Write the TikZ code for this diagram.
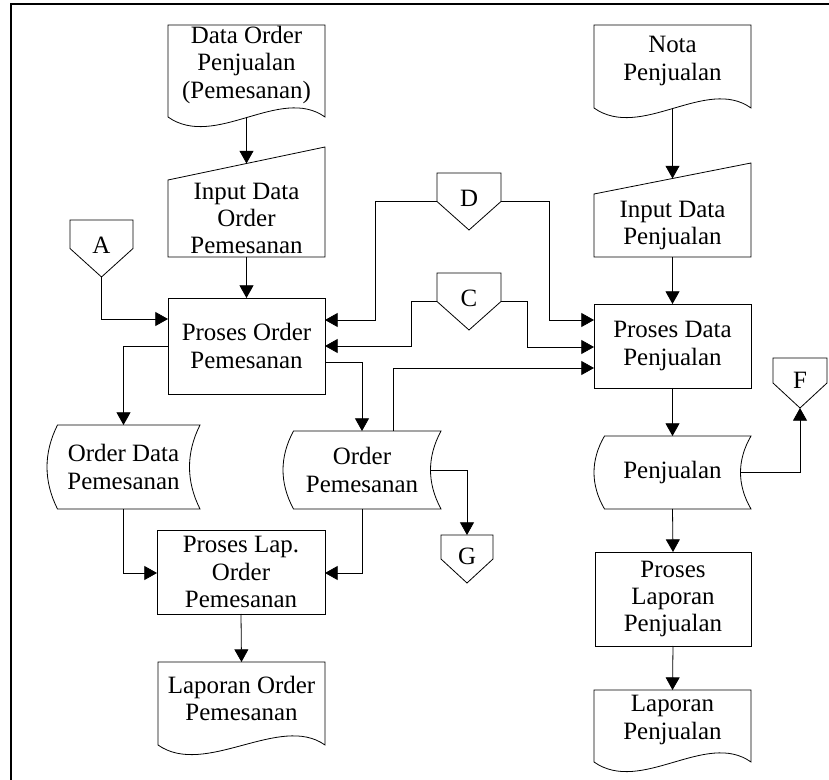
\documentclass[tikz,border=0pt]{standalone}
\usepackage{fontspec}
\setmainfont{Liberation Serif}
\usetikzlibrary{arrows.meta,calc}

\begin{document}
\begin{tikzpicture}[x=0.75pt,y=0.75pt,yscale=-1,xscale=1,
  every node/.style={inner sep=0pt,outer sep=0pt,align=center,font=\fontsize{18.7}{20.3}\selectfont},
  flow/.style={line width=0.6pt,-{Triangle[length=9.5pt,width=10.5pt]}},
  box/.style={draw,line width=0.6pt}]
\useasboundingbox (0,0) rectangle (829,780);

%Frame
\draw [line width=0.8pt] (829,4) -- (11,4) -- (11,780) ;

% Text Node
\node (doc1) at (246.5,65) [minimum width=117.75pt,minimum height=60pt] {Data Order\\Penjualan\\(Pemesanan)};
% Text Node
\node (in1) at (246.5,218.5) [minimum width=117.75pt,minimum height=57.75pt] {Input Data\\Order\\Pemesanan};
% Text Node
\node (p1) at (246.5,346) [box,minimum width=117.75pt,minimum height=72pt] {Proses Order\\Pemesanan};
% Text Node
\node (A) at (101.5,248.5) [minimum width=47.25pt,minimum height=42.75pt] {\raisebox{4.5pt}{A}};
% Text Node
\node (D) at (469,201.5) [minimum width=48pt,minimum height=42.75pt] {\raisebox{4.5pt}{D}};
% Text Node
\node (C) at (469,301.5) [minimum width=48pt,minimum height=42.75pt] {\raisebox{4.5pt}{C}};
% Text Node
\node (s1) at (123.5,467) [minimum width=114.75pt,minimum height=63pt] {Order Data\\Pemesanan};
% Text Node
\node (s2) at (362,470) [minimum width=118.5pt,minimum height=58.5pt] {Order\\Pemesanan};
% Text Node
\node (G) at (467,559) [minimum width=39pt,minimum height=36pt] {\raisebox{4.5pt}{G}};
% Text Node
\node (p2) at (241,572) [box,minimum width=126pt,minimum height=63pt] {Proses Lap.\\Order\\Pemesanan};
% Text Node
\node (d3) at (241.5,698.5) [minimum width=125.25pt,minimum height=54.75pt] {Laporan Order\\Pemesanan};
% Text Node
\node (d2) at (672.5,61) [minimum width=117.75pt,minimum height=54pt] {Nota\\Penjualan};
% Text Node
\node (in2) at (672.5,225.5) [minimum width=117.75pt,minimum height=47.25pt] {Input Data\\Penjualan};
% Text Node
\node (p3) at (672.5,346) [box,minimum width=117.75pt,minimum height=63pt] {Proses Data\\Penjualan};
% Text Node
\node (s3) at (672.5,472.5) [minimum width=117.75pt,minimum height=54.75pt] {Penjualan};
% Text Node
\node (F) at (800,383) [minimum width=40.5pt,minimum height=37.5pt] {\raisebox{4.5pt}{F}};
% Text Node
\node (p4) at (673,599) [box,minimum width=117pt,minimum height=70.5pt] {Proses\\Laporan\\Penjualan};
% Text Node
\node (d4) at (672.5,720) [minimum width=117.75pt,minimum height=45pt] {Laporan\\Penjualan};

%Shape: Document
\draw [line width=0.6pt] (doc1.north west) -- (doc1.north east) -- ($(doc1.south east)+(0,12)$) .. controls +(-45,-32) and +(47,33) .. ($(doc1.south west)+(0,12)$) -- cycle ;
\draw [line width=0.6pt] (d2.north west) -- (d2.north east) -- ($(d2.south east)+(0,11)$) .. controls +(-45,-32) and +(47,33) .. ($(d2.south west)+(0,11)$) -- cycle ;
\draw [line width=0.6pt] (d3.north west) -- (d3.north east) -- ($(d3.south east)+(0,10)$) .. controls +(-45,-32) and +(47,33) .. ($(d3.south west)+(0,10)$) -- cycle ;
\draw [line width=0.6pt] (d4.north west) -- (d4.north east) -- ($(d4.south east)+(0,12)$) .. controls +(-45,-32) and +(47,33) .. ($(d4.south west)+(0,12)$) -- cycle ;
%Shape: Manual Input
\draw [line width=0.6pt] (in1.south west) -- (in1.north west) -- ($(in1.north east)+(0,-33)$) -- (in1.south east) -- cycle ;
\draw [line width=0.6pt] (in2.south west) -- (in2.north west) -- ($(in2.north east)+(0,-31)$) -- (in2.south east) -- cycle ;
%Shape: Stored Data
\draw [line width=0.6pt] ($(s1.north west)+(10.5,0)$) -- (s1.north east) .. controls +(-14,28) and +(-14,-28) .. (s1.south east) -- ($(s1.south west)+(10.5,0)$) .. controls +(-14,-28) and +(-14,28) .. ($(s1.north west)+(10.5,0)$) -- cycle ;
\draw [line width=0.6pt] ($(s2.north west)+(10.5,0)$) -- (s2.north east) .. controls +(-14,26) and +(-14,-26) .. (s2.south east) -- ($(s2.south west)+(10.5,0)$) .. controls +(-14,-26) and +(-14,26) .. ($(s2.north west)+(10.5,0)$) -- cycle ;
\draw [line width=0.6pt] ($(s3.north west)+(10.5,0)$) -- (s3.north east) .. controls +(-14,24) and +(-14,-24) .. (s3.south east) -- ($(s3.south west)+(10.5,0)$) .. controls +(-14,-24) and +(-14,24) .. ($(s3.north west)+(10.5,0)$) -- cycle ;
%Shape: Off-page Connector
\draw [line width=0.6pt] (A.north west) -- (A.north east) -- (A.east) -- (A.south) -- (A.west) -- cycle ;
\draw [line width=0.6pt] (D.north west) -- (D.north east) -- (D.east) -- (D.south) -- (D.west) -- cycle ;
\draw [line width=0.6pt] (C.north west) -- (C.north east) -- (C.east) -- (C.south) -- (C.west) -- cycle ;
\draw [line width=0.6pt] (G.north west) -- (G.north east) -- (G.east) -- (G.south) -- (G.west) -- cycle ;
\draw [line width=0.6pt] (F.north west) -- (F.north east) -- (F.east) -- (F.south) -- (F.west) -- cycle ;

%Straight Lines
\draw [flow] ($(doc1.south)+(0,12)$) -- ($(in1.north)+(0,-16.5)$) ;
\draw [flow] (in1.south) -- (p1.north) ;
\draw [flow] (A.south) |- (p1.west |- 0,319) ;
\draw [flow] (D.west) -| (375,320) -- (p1.east |- 0,320) ;
\draw [flow] (D.east) -| (549,320) -- (p3.west |- 0,320) ;
\draw [flow] (C.west) -| (411,346) -- (p1.east |- 0,346) ;
\draw [flow] (C.east) -| (527,347) -- (p3.west |- 0,347) ;
\draw [flow] (s2.north -| 393,0) |- (p3.west |- 0,368) ;
\draw [flow] (p1.west |- 0,346) -| (s1.north) ;
\draw [flow] (p1.east |- 0,362) -| (s2.north) ;
\draw [flow] (s1.south) |- (p2.west |- 0,573) ;
\draw [flow] (s2.south) |- (p2.east |- 0,573) ;
\draw [flow] ($(s2.east)+(-10.5,0)$) -| (G.north) ;
\draw [flow] (p2.south) -- (d3.north) ;
\draw [flow] ($(d2.south)+(0,11)$) -- ($(in2.north)+(0,-15.5)$) ;
\draw [flow] (in2.south) -- (p3.north) ;
\draw [flow] (p3.south) -- (s3.north) ;
\draw [flow] ($(s3.east)+(-10.5,0)$) -| (F.south) ;
\draw [flow] (s3.south) -- (p4.north) ;
\draw [flow] (p4.south) -- (d4.north) ;

\end{tikzpicture}
\end{document}
